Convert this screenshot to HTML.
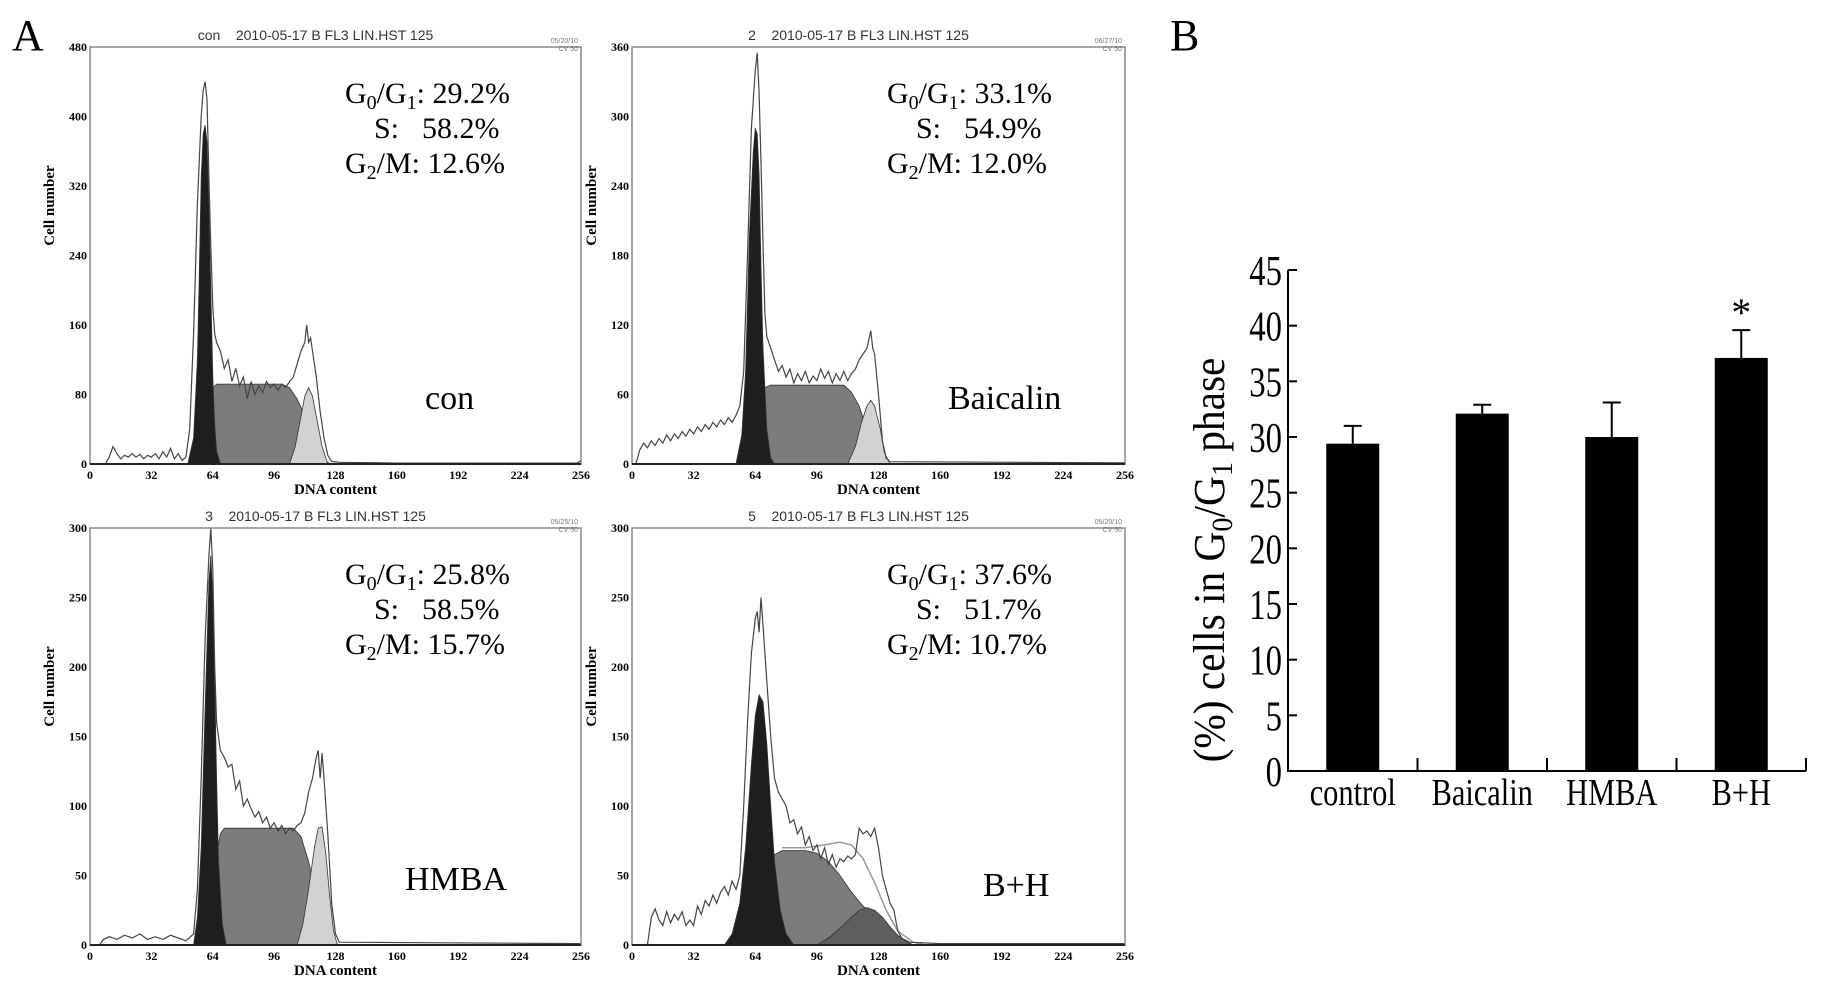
<!DOCTYPE html>
<html><head><meta charset="utf-8"><style>
html,body{margin:0;padding:0;background:#fff;}
svg{display:block;}
text{font-family:"Liberation Serif",serif;}
.sans{font-family:"Liberation Sans",sans-serif;white-space:pre;}
</style></head><body>
<svg id="fig" width="1827" height="991" viewBox="0 0 1827 991" xmlns="http://www.w3.org/2000/svg">
<text x="12" y="50" font-size="44">A</text>
<text x="1170" y="50" font-size="44">B</text>
</svg>
<script>
// ---------- Bar chart data ----------
const barCategories = ["control","Baicalin","HMBA","B+H"];
const barValues = [29.4, 32.1, 30.0, 37.1];
const barErrors = [1.6, 0.8, 3.1, 2.5];
const barYTicks = [0,5,10,15,20,25,30,35,40,45];
const barSignif = ["","","","*"];

// ---------- Histogram data ----------
const histNames = ["con","Baicalin","HMBA","B+H"];
const histTitles = ["con    2010-05-17 B FL3 LIN.HST 125","2    2010-05-17 B FL3 LIN.HST 125","3    2010-05-17 B FL3 LIN.HST 125","5    2010-05-17 B FL3 LIN.HST 125"];
const histDates = ["05/20/10","06/27/10","05/25/10","05/20/10"];
const histYMax = [480,360,300,300];
const histYTicks = [[0,80,160,240,320,400,480],[0,60,120,180,240,300,360],[0,50,100,150,200,250,300],[0,50,100,150,200,250,300]];
const histXTicks = [0,32,64,96,128,160,192,224,256];
const statG1 = ["29.2%","33.1%","25.8%","37.6%"];
const statS = ["58.2%","54.9%","58.5%","51.7%"];
const statG2 = ["12.6%","12.0%","15.7%","10.7%"];

const raw1 = [[8,0],[10,8],[12,20],[14,12],[16,6],[18,10],[20,8],[22,12],[24,8],[26,11],[28,6],[30,10],[32,8],[34,12],[36,6],[38,14],[40,8],[42,18],[44,6],[46,12],[48,4],[50,8],[52,40],[54,150],[56,300],[58,400],[59,430],[60,440],[61,420],[62,330],[63,250],[64,180],[65,150],[66,140],[68,130],[70,110],[72,120],[74,95],[76,110],[78,90],[80,100],[82,75],[84,95],[86,80],[88,90],[90,82],[92,95],[94,88],[96,92],[98,85],[100,92],[102,88],[104,95],[106,100],[108,115],[110,130],[112,140],[113,160],[114,140],[115,145],[116,130],[118,100],[120,60],[122,30],[124,10],[126,3],[130,2],[160,1],[200,1],[254,1],[256,4]];
const g1_1 = [[51,0],[54,30],[56,120],[57,220],[58,330],[59,380],[60,390],[61,370],[62,300],[63,200],[64,100],[65,45],[66,15],[68,0]];
const s_1 = [[54,0],[58,30],[62,75],[64,88],[66,92],[100,92],[104,88],[108,75],[112,55],[116,30],[120,10],[125,0]];
const g2_1 = [[104,0],[107,20],[110,55],[112,78],[114,88],[116,78],[118,55],[121,20],[124,0]];

const raw2 = [[2,0],[4,12],[6,18],[8,14],[10,20],[12,16],[14,22],[16,18],[18,25],[20,20],[22,26],[24,22],[26,28],[28,24],[30,30],[32,26],[34,32],[36,28],[38,34],[40,30],[42,36],[44,32],[46,38],[48,34],[50,40],[52,36],[54,42],[56,50],[58,80],[60,180],[62,290],[64,340],[65,355],[66,320],[67,260],[68,190],[69,130],[70,110],[72,100],[74,90],[76,80],[78,85],[80,75],[82,82],[84,70],[86,78],[88,72],[90,80],[92,70],[94,76],[96,72],[98,82],[100,74],[102,80],[104,70],[106,78],[108,72],[110,80],[112,72],[114,78],[116,82],[118,90],[120,95],[122,100],[124,115],[125,100],[126,95],[128,60],[130,20],[132,5],[134,2],[256,1]];
const g1_2 = [[54,0],[57,25],[59,80],[61,200],[63,270],[64,290],[65,285],[66,250],[67,170],[68,100],[70,30],[72,5],[74,0]];
const s_2 = [[60,0],[63,20],[66,55],[69,66],[72,68],[110,68],[114,62],[118,50],[122,30],[126,12],[132,0]];
const g2_2 = [[112,0],[116,15],[119,35],[122,50],[124,55],[126,50],[129,30],[131,10],[134,0]];

const raw3 = [[5,0],[7,4],[10,6],[14,4],[18,7],[22,5],[26,8],[30,4],[34,6],[38,4],[42,7],[46,5],[50,3],[54,8],[56,40],[58,120],[60,220],[62,280],[63,300],[64,270],[65,200],[66,160],[68,140],[70,135],[72,128],[74,130],[76,112],[78,118],[80,100],[82,105],[84,98],[86,92],[88,96],[90,88],[92,92],[94,84],[96,88],[98,82],[100,86],[102,80],[104,84],[106,82],[108,86],[110,88],[112,95],[114,110],[116,120],[118,135],[119,140],[120,120],[121,138],[122,120],[124,80],[126,30],[128,8],[130,2],[256,1]];
const g1_3 = [[54,0],[56,20],[58,70],[60,170],[62,260],[63,280],[64,250],[65,190],[66,120],[67,60],[69,15],[71,0]];
const s_3 = [[60,0],[63,25],[66,65],[68,80],[70,84],[106,84],[110,78],[114,60],[118,35],[121,15],[125,0]];
const g2_3 = [[108,0],[111,15],[114,40],[117,70],[119,84],[121,85],[123,65],[125,35],[127,10],[129,0]];

const raw4 = [[8,0],[10,20],[12,26],[14,18],[16,14],[18,24],[20,16],[22,22],[24,18],[26,24],[28,14],[30,18],[32,14],[34,28],[36,22],[38,32],[40,28],[42,36],[44,30],[46,38],[48,42],[50,36],[52,46],[54,40],[56,50],[58,100],[60,160],[62,210],[64,235],[65,240],[66,225],[67,250],[68,230],[70,190],[72,150],[74,120],[76,110],[78,105],[80,100],[82,88],[84,90],[86,80],[88,85],[90,72],[92,78],[94,68],[96,72],[98,62],[100,70],[102,58],[104,65],[106,56],[108,62],[110,60],[112,64],[114,62],[116,65],[118,84],[120,80],[122,82],[124,78],[126,84],[128,70],[130,50],[132,40],[134,30],[136,25],[138,10],[140,5],[144,2],[160,1],[256,1]];
const g1_4 = [[48,0],[52,8],[56,30],[59,70],[62,130],[64,165],[66,180],[68,175],[70,145],[72,100],[74,60],[77,25],[80,8],[84,0]];
const s_4 = [[58,0],[62,10],[66,30],[70,52],[74,65],[78,68],[90,68],[96,66],[102,60],[108,50],[114,38],[120,28],[126,20],[132,12],[138,5],[144,0]];
const g2_4 = [[96,0],[102,5],[108,12],[114,20],[118,25],[122,27],[126,25],[130,20],[134,13],[138,7],[142,3],[146,0]];
const fit4 = [[78,70],[90,70],[100,72],[108,74],[114,72],[120,62],[126,45],[132,25],[138,10],[146,2],[152,0]];

const histRaw = [raw1,raw2,raw3,raw4];
const histG1 = [g1_1,g1_2,g1_3,g1_4];
const histS = [s_1,s_2,s_3,s_4];
const histG2 = [g2_1,g2_2,g2_3,g2_4];
const histFit = [null,null,null,fit4];

const NS = "http://www.w3.org/2000/svg";
const svg = document.getElementById('fig');
function mk(tag, attrs, parent, txt){
  const e = document.createElementNS(NS, tag);
  for (const k in attrs) e.setAttribute(k, attrs[k]);
  if (txt !== undefined) e.textContent = txt;
  (parent||svg).appendChild(e);
  return e;
}

// ---------- Histograms ----------
const boxes = [[90,47,581,464],[632,47,1125,464],[90,528,581,945],[632,528,1125,945]];
const namePos = [[335,362],[316,362],[315,362],[351,368]];
for (let p=0;p<4;p++){
  const [L,T,R,B] = boxes[p];
  const g = mk('g',{});
  
  
  const xs = v => L + (v/256)*(R-L);
  const ys = v => B - (v/histYMax[p])*(B-T);
  const area = (pts, fill, name) => {
    let d = 'M'+xs(pts[0][0])+','+ys(0);
    pts.forEach(q=>{ d += ' L'+xs(q[0]).toFixed(1)+','+ys(q[1]).toFixed(1); });
    d += ' L'+xs(pts[pts.length-1][0])+','+ys(0)+' Z';
    const e = mk('path',{d:d, fill:fill, stroke:'#333', 'stroke-width':0.8}, g);
    
    
  };
  area(histS[p], '#7c7c7c', 's-phase-area');
  area(histG2[p], p===3 ? '#5e5e5e' : '#d2d2d2', 'g2m-phase-area');
  area(histG1[p], '#1e1e1e', 'g0g1-phase-area');
  if (histFit[p]){
    const fl = mk('polyline',{points:histFit[p].map(q=>xs(q[0]).toFixed(1)+','+ys(q[1]).toFixed(1)).join(' '), fill:'none', stroke:'#999', 'stroke-width':1.5}, g);
    
    
  }
  const rl = mk('polyline',{points:histRaw[p].map(q=>xs(q[0]).toFixed(1)+','+ys(q[1]).toFixed(1)).join(' '), fill:'none', stroke:'#444', 'stroke-width':1.2}, g);
  
  
  const frame = mk('rect',{x:L,y:T,width:R-L,height:B-T,fill:'none',stroke:'#888','stroke-width':1.5}, g);
  
  
  mk('line',{x1:L,y1:B,x2:R,y2:B,stroke:'#222','stroke-width':2}, g);
  histYTicks[p].forEach(v=>{
    const t = mk('text',{x:L-3,y:ys(v)+4,'font-size':12,'font-weight':'bold','text-anchor':'end'}, g, String(v));
    
    
  });
  histXTicks.forEach(v=>{
    const t = mk('text',{x:xs(v),y:B+15,'font-size':12,'font-weight':'bold','text-anchor':'middle'}, g, String(v));
    
    
  });
  const xt = mk('text',{x:(L+R)/2,y:B+30,'font-size':15,'font-weight':'bold','text-anchor':'middle'}, g, 'DNA content');
  
  
  const yt = mk('text',{x:0,y:0,'font-size':15,'font-weight':'bold','text-anchor':'middle',transform:'translate('+(L-36)+','+((T+B)/2-50)+') rotate(-90)'}, g, 'Cell number');
  
  
  const tt = mk('text',{x:(L+R)/2-20,y:T-7,'font-size':14,'text-anchor':'middle','class':'sans',fill:'#333'}, g, histTitles[p]);
  
  
  const dt = mk('text',{x:R-3,y:T-4,'font-size':7,'text-anchor':'end','class':'sans',fill:'#777'}, g, histDates[p]);
  
  
  const cv = mk('text',{x:R-3,y:T+4,'font-size':7,'text-anchor':'end','class':'sans',fill:'#777'}, g, 'CV 50');
  
  
  const t1 = mk('text',{x:L+255,y:T+56,'font-size':30}, g);
  
  
  t1.innerHTML = 'G<tspan font-size="20" dy="6">0</tspan><tspan dy="-6">/G</tspan><tspan font-size="20" dy="6">1</tspan><tspan dy="-6">: '+statG1[p]+'</tspan>';
  const t2a = mk('text',{x:L+284,y:T+91,'font-size':30}, g, 'S:');
  
  
  const t2 = mk('text',{x:L+332,y:T+91,'font-size':30}, g, statS[p]);
  
  
  const t3 = mk('text',{x:L+255,y:T+126,'font-size':30}, g);
  
  
  t3.innerHTML = 'G<tspan font-size="20" dy="6">2</tspan><tspan dy="-6">/M: '+statG2[p]+'</tspan>';
  const nm = mk('text',{x:L+namePos[p][0],y:T+namePos[p][1],'font-size':34}, g, histNames[p]);
  
  
}

// ---------- Bar chart ----------
const ax = {x0:1288, x1:1806, y0:771, y1:270, vmax:45};
const by = v => ax.y0 - (v/ax.vmax)*(ax.y0-ax.y1);
const slot = (ax.x1-ax.x0)/barCategories.length;
const bx = i => ax.x0 + slot*(i+0.5);
const bw = 53;
const bg = mk('g',{});


barValues.forEach((v,i)=>{
  const r = mk('rect',{x:bx(i)-bw/2,y:by(v),width:bw,height:ax.y0-by(v),fill:'#000'}, bg);
  
  
  const top = by(v+barErrors[i]);
  const e = mk('path',{d:'M'+bx(i)+','+by(v)+' V'+top+' M'+(bx(i)-9)+','+top+' H'+(bx(i)+9),stroke:'#000','stroke-width':2,fill:'none'}, bg);
  
  
  if (barSignif[i]){
    const s = mk('text',{x:bx(i),y:top-4,'font-size':40,'text-anchor':'middle'}, bg, barSignif[i]);
    
    
  }
  const lab = mk('text',{x:0,y:0,'font-size':38,'text-anchor':'middle',transform:'translate('+bx(i)+',805) scale(0.8,1)'}, bg, barCategories[i]);
  
  
});
const axl = mk('path',{d:'M'+ax.x0+','+ax.y1+' V'+ax.y0+' H'+ax.x1,stroke:'#000','stroke-width':2,fill:'none'}, bg);


for (let i=1;i<=barCategories.length;i++){
  mk('line',{x1:ax.x0+slot*i,y1:ax.y0,x2:ax.x0+slot*i,y2:ax.y0-13,stroke:'#000','stroke-width':2}, bg);
}
barYTicks.forEach(v=>{
  mk('line',{x1:ax.x0,y1:by(v),x2:ax.x0+9,y2:by(v),stroke:'#000','stroke-width':2}, bg);
  const t = mk('text',{x:0,y:0,'font-size':42,'text-anchor':'end',transform:'translate(1282,'+(by(v)+15)+') scale(0.78,1)'}, bg, String(v));
  
  
});
const ytitle = mk('text',{x:0,y:0,'font-size':44,'text-anchor':'middle',transform:'translate(1224,560) rotate(-90) scale(0.94,1)'}, bg);


ytitle.innerHTML = '(%) cells in G<tspan font-size="30" dy="8">0</tspan><tspan dy="-8">/G</tspan><tspan font-size="30" dy="8">1</tspan><tspan dy="-8"> phase</tspan>';
</script>
</body></html>
